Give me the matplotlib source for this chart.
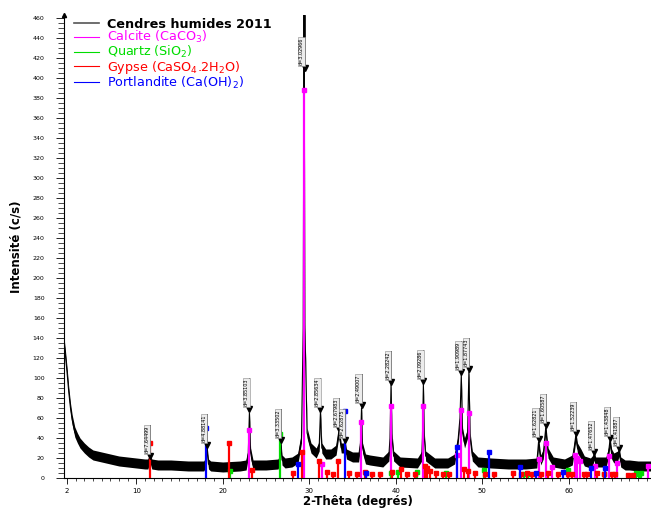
import numpy as np
import matplotlib
matplotlib.use("Agg")
import matplotlib.pyplot as plt
from matplotlib.lines import Line2D
from matplotlib.ticker import MultipleLocator, FixedLocator

# diffractogramme mesuré (2-thêta en degrés, intensité en c/s)
theta = [1.6, 1.8, 2.0, 2.2, 2.4, 2.6, 2.9, 3.2, 3.5, 4.0, 4.5, 5.0, 6.0, 7.0, 8.0, 9.0,
         10.0, 11.0, 11.35, 11.57, 11.8, 12.5, 14.0, 16.0, 17.8, 18.0, 18.16, 18.35, 18.6,
         20.0, 22.0, 22.7, 22.95, 23.08, 23.22, 23.5, 25.0, 26.4, 26.6, 26.71, 26.85,
         27.2, 28.0, 28.7, 29.1, 29.3, 29.4, 29.5, 29.75, 30.2, 30.8, 31.15, 31.29,
         31.45, 31.9, 32.5, 33.1, 33.41, 33.7, 33.95, 34.1, 34.3, 35.0, 35.7, 35.92,
         36.04, 36.16, 36.5, 37.0, 38.5, 39.2, 39.33, 39.45, 39.57, 39.75, 40.5, 42.5,
         43.0, 43.08, 43.19, 43.3, 43.45, 44.5, 46.0, 46.8, 47.2, 47.42, 47.57, 47.72,
         47.95, 48.3, 48.45, 48.6, 48.85, 49.5, 51.0, 53.0, 55.0, 56.3, 56.5, 56.75,
         57.05, 57.33, 57.6, 58.2, 59.5, 60.4, 60.65, 60.8, 61.0, 61.4, 61.8, 62.5,
         62.8, 62.9, 63.1, 64.3, 64.6, 64.75, 64.95, 65.2, 65.65, 65.8, 66.0, 66.5,
         67.0, 68.0, 69.5]
counts = [140, 124, 106, 86, 70, 58, 46, 40, 35, 30, 26, 23, 21, 19, 17, 16,
          15, 14, 14, 21, 14, 13, 13, 12, 12, 15, 30, 14, 12,
          11, 12, 13, 25, 65, 25, 13, 13, 14, 20, 35, 18,
          15, 16, 20, 40, 150, 480, 150, 45, 30, 25, 32, 66,
          30, 24, 24, 28, 46, 30, 30, 35, 24, 21, 21, 35,
          70, 30, 19, 18, 16, 22, 40, 93, 40, 22, 16, 15,
          22, 40, 94, 40, 22, 15, 15, 19, 38, 60, 103, 45,
          35, 45, 106, 40, 22, 16, 15, 14, 14, 15, 36, 18,
          24, 50, 25, 16, 14, 18, 32, 42, 30, 24, 17, 15,
          18, 23, 16, 16, 26, 37, 24, 20, 22, 27, 16, 13,
          13, 12, 12]
noise_band = 5

# pics indexés (position, hauteur du repère, distance d)
label_theta = [11.57, 18.16, 23.08, 26.71, 29.46, 31.29, 33.41, 34.10, 36.04, 39.45,
               43.19, 47.57, 48.45, 56.50, 57.33, 60.80, 62.90, 64.75, 65.80]
label_counts = [22, 33, 69, 38, 410, 69, 49, 38, 73, 96,
                97, 106, 109, 39, 53, 45, 26, 40, 30]
label_d = ['7.64499', '4.88141', '3.85103', '3.33502', '3.02966', '2.85634', '2.67983',
           '2.62875', '2.49007', '2.28242', '2.09286', '1.90989', '1.87743', '1.62821',
           '1.60587', '1.52239', '1.47652', '1.43848', '1.41887']

# fiches de référence
calcite_pos = [23.06, 29.40, 31.42, 35.97, 39.40, 43.15, 47.12, 47.50, 48.51, 56.57,
               57.40, 58.10, 60.68, 61.00, 61.35, 63.07, 64.67, 65.60, 69.20]
calcite_int = [48, 388, 14, 56, 72, 72, 23, 68, 65, 19,
               35, 11, 23, 20, 17, 12, 22, 15, 12]
quartz_pos = [20.86, 26.64, 36.54, 39.47, 40.29, 42.45, 45.79, 50.14, 54.87, 55.33,
              59.96, 64.03, 67.74, 68.14, 68.32]
quartz_int = [7, 44, 5, 5, 6, 6, 5, 8, 4, 4, 8, 4, 5, 4, 5]
gypse_pos = [11.59, 20.72, 23.40, 28.10, 29.11, 31.10, 32.09, 32.70, 33.35, 34.56,
             35.50, 36.50, 37.20, 38.20, 39.60, 40.60, 41.30, 42.20, 43.35, 43.60,
             44.00, 44.70, 45.50, 46.10, 47.90, 48.30, 49.20, 50.30, 51.30, 53.60,
             54.50, 55.20, 55.80, 56.80, 57.60, 58.70, 59.90, 60.40, 61.80, 62.10,
             63.30, 64.10, 65.00, 65.30, 66.80, 67.40]
gypse_int = [35, 35, 8, 5, 26, 17, 6, 4, 17, 5,
             4, 6, 4, 4, 6, 9, 4, 4, 12, 10,
             7, 5, 4, 4, 9, 7, 5, 4, 4, 5,
             4, 5, 4, 4, 5, 4, 4, 4, 4, 4,
             5, 4, 4, 4, 3, 3]
portl_pos = [18.09, 28.66, 34.09, 36.60, 47.12, 50.80, 54.34, 56.20, 59.36, 62.54, 64.23]
portl_int = [50, 14, 67, 5, 31, 26, 11, 5, 6, 10, 10]

phases = [
    ("Calcite (CaCO$_3$)", "#ff00ff", calcite_pos, calcite_int),
    ("Quartz (SiO$_2$)", "#00dd00", quartz_pos, quartz_int),
    ("Gypse (CaSO$_4$.2H$_2$O)", "#ff0000", gypse_pos, gypse_int),
    ("Portlandite (Ca(OH)$_2$)", "#0000ff", portl_pos, portl_int),
]

fig = plt.figure(figsize=(6.51, 5.11), dpi=100)
ax = fig.add_axes([0.0983, 0.0646, 0.9017, 0.906])

# fiches (bâtonnets avec petit chapeau)
for name, col, pos, ints in phases:
    ax.vlines(pos, 0, ints, color=col, lw=1.6, zorder=3)
    ax.plot(pos, ints, ls='none', marker='s', ms=2.4, color=col, zorder=3)

# diffractogramme
t = np.array(theta)
c = np.array(counts)
ax.fill_between(t, c - noise_band, c + noise_band, color='black', lw=0, zorder=2)
ax.plot(t, c, color='black', lw=0.8, zorder=2)

ytop = 463
ax.set_xlim(1.65, 69.5)
ax.set_ylim(0, ytop)

# repères des pics
tags = []
for th, yy, d in zip(label_theta, label_counts, label_d):
    ax.plot(th, yy, marker='v', ms=4, color='black', zorder=5)
    txt = ax.text(th - 0.05, yy + 3, 'd=' + d, rotation=90, ha='right', va='bottom',
                  fontsize=3.5, zorder=6,
                  bbox=dict(boxstyle='square,pad=0.15', fc='#ececec', ec='#888888', lw=0.4))
    tags.append((th, yy, txt))

fig.canvas.draw()
inv = ax.transData.inverted()
for th, yy, txt in tags:
    bb = txt.get_bbox_patch().get_window_extent()
    yend = inv.transform((0, bb.y1))[1]
    if th == 29.46:
        yend = ytop
    ax.plot([th, th], [yy, yend], color='black', lw=0.6, zorder=5)

for s in ['top', 'right']:
    ax.spines[s].set_visible(False)
ax.spines['left'].set_linewidth(0.8)
ax.spines['bottom'].set_linewidth(0.8)
ax.plot(1.65, ytop, marker='^', ms=3, color='black', clip_on=False, zorder=6)

ax.xaxis.set_major_locator(FixedLocator([2, 10, 20, 30, 40, 50, 60]))
ax.xaxis.set_minor_locator(MultipleLocator(1))
ax.yaxis.set_major_locator(MultipleLocator(20))
ax.yaxis.set_minor_locator(MultipleLocator(5))
ax.tick_params(axis='x', which='major', direction='out', length=4, width=0.6,
               labelsize=5, pad=3)
ax.tick_params(axis='x', which='minor', direction='out', length=2.5, width=0.5)
ax.tick_params(axis='y', which='major', direction='out', length=6, width=0.6,
               labelsize=4.5, pad=8)
ax.tick_params(axis='y', which='minor', direction='out', length=4, width=0.5)

ax.set_xlabel("2-Thêta (degrés)", fontsize=8.5, fontweight='bold', labelpad=1)
ax.set_ylabel("Intensité (c/s)", fontsize=8.5, fontweight='bold', labelpad=7)

handles = [Line2D([], [], color='#555555', lw=1.2)]
labels = ["Cendres humides 2011"]
for name, col, pos, ints in phases:
    handles.append(Line2D([], [], color=col, lw=0.8))
    labels.append(name)
leg = ax.legend(handles, labels, loc='upper left', bbox_to_anchor=(0.012, 1.0),
                frameon=False, fontsize=9.2, handlelength=2.0, handletextpad=0.6,
                labelspacing=-0.1, borderaxespad=0, borderpad=0.2,
                labelcolor=['black'] + [p[1] for p in phases])
leg.get_texts()[0].set_fontweight('bold')

fig.savefig("out.png", dpi=100)
